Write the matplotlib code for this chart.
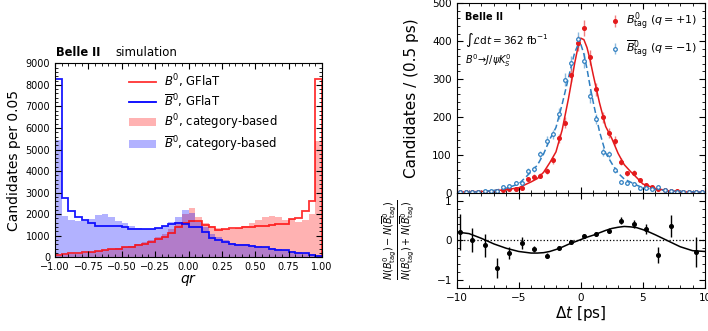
import numpy as np
import matplotlib
matplotlib.use('Agg')
import matplotlib.pyplot as plt
from matplotlib.lines import Line2D
from matplotlib.patches import Patch
from matplotlib.ticker import MultipleLocator, AutoMinorLocator

# ---------------- left panel data (qr histograms, 40 bins of 0.05) -------------
qr_edges = np.linspace(-1.0, 1.0, 41)
gflat_b0 = [100, 130, 185, 200, 245, 260, 290, 330, 385, 400,
            464, 480, 585, 617, 720, 870, 950, 1140, 1390, 1600,
            1680, 1690, 1480, 1390, 1265, 1300, 1350, 1360, 1390, 1400,
            1460, 1470, 1520, 1530, 1540, 1760, 1810, 2150, 2610, 8250]
gflat_b0bar = [8250, 2740, 2150, 1885, 1730, 1578, 1452, 1452, 1452, 1452,
               1390, 1313, 1300, 1300, 1300, 1345, 1450, 1545, 1607, 1545,
               1420, 1420, 1190, 880, 800, 720, 617, 570, 570, 524,
               464, 464, 400, 340, 340, 262, 185, 185, 123, 60]
cat_b0 = [50, 90, 130, 170, 210, 260, 300, 340, 380, 430,
          480, 540, 620, 724, 800, 957, 1067, 1300, 1650, 2000,
          2290, 1860, 1600, 1450, 1345, 1330, 1330, 1340, 1450, 1600,
          1730, 1850, 1920, 1860, 1730, 1780, 1660, 1720, 2000, 5380]
cat_b0bar = [5450, 1930, 1720, 1680, 1700, 1780, 1940, 1990, 1880, 1700,
             1600, 1450, 1340, 1300, 1300, 1345, 1450, 1650, 1860, 2180,
             2040, 1650, 1390, 1100, 940, 780, 660, 620, 600, 560,
             520, 480, 430, 400, 350, 300, 250, 210, 160, 100]
qr_ticks = [-1.00, -0.75, -0.50, -0.25, 0.00, 0.25, 0.50, 0.75, 1.00]

# ---------------- right panel data ---------------------------------------------
dt_centers = np.arange(-9.75, 10.0, 0.5)
n_b0tag = [1, 3, 1, 2, 2, 3, 4, 8, 9, 11,
           13, 36, 42, 45, 57, 86, 144, 185, 311, 394,
           434, 357, 273, 199, 158, 137, 82, 51, 53, 33,
           20, 15, 9, 7, 5, 4, 2, 2, 1, 1]
n_b0bartag = [1, 2, 3, 3, 4, 5, 5, 16, 19, 25,
              26, 58, 62, 101, 137, 154, 208, 298, 342, 405,
              349, 254, 194, 108, 101, 60, 27, 26, 22, 12,
              12, 10, 15, 8, 5, 3, 2, 2, 3, 2]

fit_t = [-10, -9, -8, -7, -6, -5, -4.5, -4, -3.5, -3, -2.5, -2, -1.5, -1,
         -0.75, -0.5, -0.25, 0, 0.25, 0.5, 0.75, 1, 1.5, 2, 2.5, 3, 3.5,
         4, 4.5, 5, 6, 7, 8, 9, 10]
fit_b0tag = [1.5, 2.3, 3.2, 5.0, 8, 13, 21, 28.6, 37.4, 53.8, 79.2, 107.8,
             166, 247.5, 293, 340.8, 381, 408, 404, 383, 350, 311, 238, 175,
             143, 104, 74, 56, 40, 23, 11.4, 5.4, 2.5, 1.5, 0.9]
fit_b0bartag = [0.9, 1.7, 2.9, 6.0, 12, 23, 39, 55.4, 72.6, 102.2, 140.8, 172.2,
                234, 302.5, 337, 369.2, 389, 392, 366, 327, 280, 239, 162, 105,
                77, 52, 36, 28, 20, 13, 8.6, 5.6, 3.5, 2.5, 1.5]

asym_t = [-9.75, -8.75, -7.75, -6.75, -5.75, -4.75, -3.75, -2.75, -1.75, -0.75,
          0.25, 1.25, 2.25, 3.25, 4.25, 5.25, 6.25, 7.25, 9.25]
asym_val = [0.21, 0.0, -0.125, -0.70, -0.31, -0.07, -0.21, -0.39, -0.18, -0.04,
            0.11, 0.17, 0.24, 0.50, 0.42, 0.29, -0.36, 0.37, -0.29]
asym_err = [0.45, 0.30, 0.29, 0.25, 0.15, 0.15, 0.08, 0.06, 0.05, 0.04,
            0.04, 0.05, 0.06, 0.08, 0.10, 0.13, 0.20, 0.28, 0.38]
asym_fit_t = [-10, -9, -8, -7, -6, -5, -4.5, -4, -3.5, -3, -2.5, -2, -1.5, -1,
              -0.5, 0, 0.5, 1, 1.5, 2, 2.5, 3, 3.5, 4, 4.5, 5, 5.5, 6, 7, 8, 9, 10]
asym_fit = [0.21, 0.17, 0.05, -0.09, -0.20, -0.28, -0.30, -0.32, -0.32, -0.31,
            -0.28, -0.23, -0.17, -0.10, -0.04, 0.02, 0.08, 0.13, 0.19, 0.25,
            0.30, 0.33, 0.35, 0.34, 0.32, 0.27, 0.21, 0.14, -0.01, -0.16,
            -0.26, -0.28]

RED = '#e41a1c'
BLUE = '#2f7fc1'

fig = plt.figure(figsize=(7.08, 3.31), dpi=100)

# ============================ left panel =======================================
ax1 = fig.add_axes([0.0777, 0.2227, 0.3771, 0.586])
ax1.stairs(cat_b0, qr_edges, fill=True, color='red', alpha=0.3, lw=0)
ax1.stairs(cat_b0bar, qr_edges, fill=True, color='blue', alpha=0.3, lw=0)
ax1.stairs(gflat_b0, qr_edges, baseline=0, color='red', lw=1.3, alpha=0.8)
ax1.stairs(gflat_b0bar, qr_edges, baseline=0, color='blue', lw=1.3, alpha=0.9)
ax1.set_xlim(-1, 1)
ax1.set_ylim(0, 9000)
ax1.set_xticks(qr_ticks)
ax1.set_xticklabels([f'{v:.2f}'.replace('-', '\u2212') for v in qr_ticks])
ax1.yaxis.set_major_locator(MultipleLocator(1000))
ax1.xaxis.set_minor_locator(MultipleLocator(0.05))
ax1.yaxis.set_minor_locator(AutoMinorLocator(5))
ax1.tick_params(which='both', direction='in', top=True, right=True, labelsize=7)
ax1.tick_params(which='major', length=4)
ax1.tick_params(which='minor', length=2)
ax1.set_ylabel('Candidates per 0.05', fontsize=10, labelpad=3)
ax1.set_xlabel('$qr$', fontsize=10, labelpad=0)
ax1.text(0.005, 1.02, 'Belle II', transform=ax1.transAxes, fontsize=8.3,
         fontweight='bold', ha='left', va='bottom')
ax1.text(0.228, 1.02, 'simulation', transform=ax1.transAxes, fontsize=8.5,
         ha='left', va='bottom')
handles = [Line2D([], [], color='red', lw=1.3, alpha=0.8),
           Line2D([], [], color='blue', lw=1.3),
           Patch(facecolor='red', alpha=0.3, lw=0),
           Patch(facecolor='blue', alpha=0.3, lw=0)]
labels = ['$B^0$, GFlaT', r'$\overline{B}^0$, GFlaT',
          '$B^0$, category-based', r'$\overline{B}^0$, category-based']
ax1.legend(handles, labels, loc='upper left', bbox_to_anchor=(0.25, 0.99),
           frameon=False, fontsize=8.4, handlelength=2.3, labelspacing=0.22,
           handletextpad=0.7, borderaxespad=0.2)

# ============================ right panels =====================================
ax2 = fig.add_axes([0.645, 0.4178, 0.3507, 0.5722])
ax3 = fig.add_axes([0.645, 0.1299, 0.3507, 0.2879], sharex=ax2)

ax2.errorbar(dt_centers, n_b0tag, yerr=np.sqrt(n_b0tag), fmt='o', ms=2.6,
             color=RED, ecolor=(0.89, 0.1, 0.11, 0.55), elinewidth=1.0,
             capsize=0, label=r'$B^0_{\rm tag}$ ($q=+1$)', zorder=3)
ax2.errorbar(dt_centers, n_b0bartag, yerr=np.sqrt(n_b0bartag), fmt='o',
             ms=2.6, mfc='white', mec=BLUE, mew=0.9, color=BLUE,
             ecolor=(0.18, 0.5, 0.76, 0.55), elinewidth=1.0, capsize=0,
             label=r'$\overline{B}^0_{\rm tag}$ ($q=-1$)', zorder=3)
ax2.plot(fit_t, fit_b0tag, color=RED, lw=1.1, zorder=2)
ax2.plot(fit_t, fit_b0bartag, color=BLUE, lw=1.1, ls=(0, (4, 2)), zorder=2)
ax2.set_xlim(-10, 10)
ax2.set_ylim(0, 500)
ax2.xaxis.set_major_locator(MultipleLocator(5))
ax2.xaxis.set_minor_locator(MultipleLocator(1))
ax2.yaxis.set_major_locator(MultipleLocator(100))
ax2.yaxis.set_minor_locator(AutoMinorLocator(5))
ax2.tick_params(which='both', direction='in', top=True, right=True,
                labelsize=7.5, labelbottom=False)
ax2.tick_params(which='major', length=4)
ax2.tick_params(which='minor', length=2)
ax2.set_ylabel('Candidates / (0.5 ps)', fontsize=11)
ax2.yaxis.set_label_coords(-0.15, 0.5)
ax2.text(0.035, 0.955, 'Belle II', transform=ax2.transAxes, fontsize=7,
         fontweight='bold', ha='left', va='top')
ax2.text(0.035, 0.855, r'$\int\mathcal{L}\mathrm{d}t = 362$ fb$^{-1}$',
         transform=ax2.transAxes, fontsize=7.5, ha='left', va='top')
ax2.text(0.035, 0.74, r'$B^0\!\to\! J/\psi K^0_S$', transform=ax2.transAxes,
         fontsize=7, ha='left', va='top')
ax2.legend(loc='upper right', frameon=False, fontsize=8, handlelength=1.0,
           handletextpad=0.5, labelspacing=0.5, borderaxespad=0.3)

ax3.errorbar(asym_t, asym_val, yerr=asym_err, fmt='o', ms=2.6, color='black',
             elinewidth=1.0, capsize=0, zorder=3)
ax3.plot(asym_fit_t, asym_fit, color='black', lw=1.1, zorder=2)
ax3.axhline(0, color='black', lw=0.9, ls=':')
ax3.set_ylim(-1.2, 1.2)
ax3.set_yticks([-1, 0, 1])
ax3.set_yticklabels(['\u22121', '0', '1'])
ax3.yaxis.set_minor_locator(AutoMinorLocator(5))
ax3.xaxis.set_minor_locator(MultipleLocator(1))
ax3.set_xticks([-10, -5, 0, 5, 10])
ax3.set_xticklabels(['\u221210', '\u22125', '0', '5', '10'])
ax3.set_xlim(-10, 10)
ax3.tick_params(which='both', direction='in', top=True, right=True, labelsize=7.5)
ax3.tick_params(which='major', length=4)
ax3.tick_params(which='minor', length=2)
ax3.set_xlabel(r'$\Delta t$ [ps]', fontsize=11, labelpad=1)
ax3.set_ylabel(r'$\dfrac{N(B^0_{\rm tag}) - N(\overline{B}^0_{\rm tag})}'
               r'{N(B^0_{\rm tag}) + N(\overline{B}^0_{\rm tag})}$', fontsize=7)
ax3.yaxis.set_label_coords(-0.165, 0.5)

fig.savefig('out.png', dpi=100)
